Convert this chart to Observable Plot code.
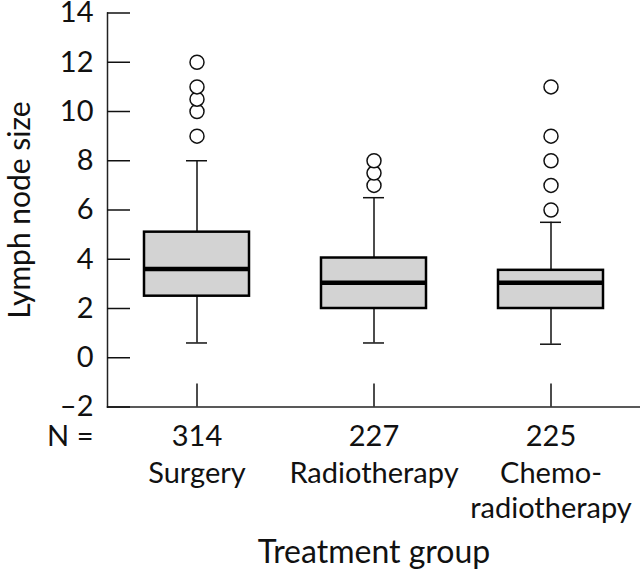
<!DOCTYPE html>
<html>
<head>
<meta charset="utf-8">
<script src="https://cdn.jsdelivr.net/npm/d3@7"></script>
<script src="https://cdn.jsdelivr.net/npm/@observablehq/plot@0.6"></script>
<style>
  html, body { margin: 0; padding: 0; background: #fff; }
</style>
</head>
<body>
<div id="chart"></div>
<script>
const groups = ["Surgery", "Radiotherapy", "Chemoradiotherapy"];
const groupLabels = ["Surgery", "Radiotherapy", "Chemo-\nradiotherapy"];
const counts = [314, 227, 225];
const q1 = [2.5, 2.0, 2.0];
const median = [3.6, 3.05, 3.05];
const q3 = [5.1, 4.05, 3.55];
const whiskerLow = [0.6, 0.6, 0.55];
const whiskerHigh = [8, 6.5, 5.5];
const outliers = [
  [9, 10, 10.5, 11, 12],
  [7, 7.5, 8],
  [6, 7, 8, 9, 11]
];
const yTicks = [-2, 0, 2, 4, 6, 8, 10, 12, 14];

const boxes = groups.map((g, i) => ({
  group: g, label: groupLabels[i], n: counts[i],
  q1: q1[i], median: median[i], q3: q3[i], lo: whiskerLow[i], hi: whiskerHigh[i]
}));
const outlierPts = groups.flatMap((g, i) => outliers[i].map(v => ({group: g, value: v})));

const FONT = "Lato, 'Noto Sans', sans-serif";
const FS = 29;

const chart = Plot.plot({
  width: 640,
  height: 571,
  marginTop: 12.5,
  marginBottom: 164.5,
  marginLeft: 107,
  marginRight: 0,
  style: {fontFamily: FONT, fontSize: FS + "px", color: "#111", background: "#fff"},
  x: {domain: groups, padding: 0},
  y: {domain: [-2, 14]},
  marks: [
    Plot.frame({anchor: "bottom", stroke: "#222", strokeWidth: 1.5}),
    Plot.frame({anchor: "left", stroke: "#222", strokeWidth: 1.5}),
    Plot.axisY({
      ticks: yTicks, tickSize: -23, tickPadding: 37, strokeWidth: 1.5,
      label: null, fontSize: FS, fill: "#111",
      tickFormat: d => d < 0 ? "–" + Math.abs(d) : String(d)
    }),
    Plot.axisX({tickSize: -23, tickFormat: () => "", label: null, strokeWidth: 1.5}),
    // whiskers
    Plot.ruleX(boxes, {x: "group", y1: "q3", y2: "hi", stroke: "#111", strokeWidth: 1.5}),
    Plot.ruleX(boxes, {x: "group", y1: "lo", y2: "q1", stroke: "#111", strokeWidth: 1.5}),
    Plot.tickY(boxes, {x: "group", y: "hi", stroke: "#111", strokeWidth: 1.5, inset: 78}),
    Plot.tickY(boxes, {x: "group", y: "lo", stroke: "#111", strokeWidth: 1.5, inset: 78}),
    // boxes
    Plot.barY(boxes, {x: "group", y1: "q1", y2: "q3", fill: "#d3d3d3", stroke: "#000", strokeWidth: 2.5, insetLeft: 36, insetRight: 36}),
    Plot.tickY(boxes, {x: "group", y: "median", stroke: "#000", strokeWidth: 4.5, inset: 37}),
    // outliers
    Plot.dot(outlierPts, {x: "group", y: "value", r: 7, fill: "#fff", stroke: "#111", strokeWidth: 1.5}),
    // N row
    Plot.text(["N ="], {frameAnchor: "bottom-left", textAnchor: "end", lineAnchor: "top", dx: -14, dy: 18, fontSize: FS, fill: "#111"}),
    Plot.text(boxes, {x: "group", frameAnchor: "bottom", text: d => String(d.n), lineAnchor: "top", dy: 18, fontSize: FS, fill: "#111"}),
    Plot.text(boxes, {x: "group", frameAnchor: "bottom", text: "label", lineAnchor: "top", dy: 51, lineHeight: 1.2, fontSize: FS, fill: "#111"}),
    // axis titles
    Plot.text(["Treatment group"], {frameAnchor: "bottom", lineAnchor: "top", dy: 133, fontSize: 32, fill: "#111"}),
    Plot.text(["Lymph node size"], {frameAnchor: "left", textAnchor: "middle", rotate: -90, lineAnchor: "middle", dx: -87, fontSize: 30, fill: "#111"})
  ]
});
document.getElementById("chart").appendChild(chart);
</script>
</body>
</html>
